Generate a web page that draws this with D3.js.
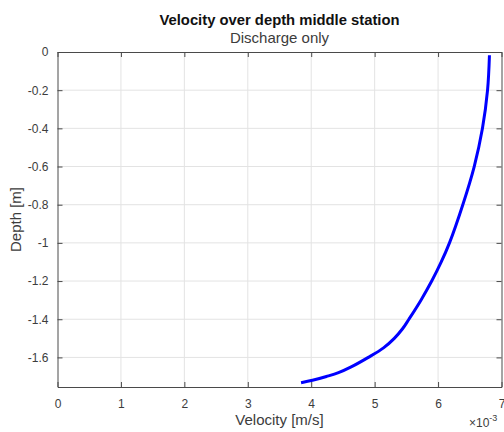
<!DOCTYPE html>
<html>
<head>
<meta charset="utf-8">
<script src="https://cdn.jsdelivr.net/npm/d3@7"></script>
<style>
  html, body { margin: 0; padding: 0; background: #fff; }
  svg { display: block; font-family: "Liberation Sans", Arial, Helvetica, sans-serif; }
</style>
</head>
<body>
<svg id="chart" width="504" height="432"></svg>
<script>
// Velocity profile (x10^-3 m/s) against depth (m)
const depth    = [-0.017, -0.2, -0.4, -0.6, -0.8, -1.0, -1.1, -1.2, -1.3, -1.4, -1.45, -1.5, -1.55, -1.6, -1.65, -1.68, -1.7, -1.72, -1.733];
const velocity = [6.81, 6.78, 6.70, 6.57, 6.39, 6.18, 6.05, 5.90, 5.73, 5.54, 5.44, 5.31, 5.14, 4.90, 4.63, 4.43, 4.24, 4.02, 3.84];

const xTicks = [0, 1, 2, 3, 4, 5, 6, 7];
const yTicks = [0, -0.2, -0.4, -0.6, -0.8, -1, -1.2, -1.4, -1.6];

const title = "Velocity over depth middle station";
const subtitle = "Discharge only";
const xLabel = "Velocity [m/s]";
const yLabel = "Depth [m]";

const margin = { left: 57.5, right: 2.5, top: 52, bottom: 45 };
const W = 504, H = 432;
const pw = W - margin.left - margin.right;
const ph = H - margin.top - margin.bottom;

const svg = d3.select("#chart");
const g = svg.append("g").attr("transform", `translate(${margin.left},${margin.top})`);

const x = d3.scaleLinear().domain([0, 7]).range([0, pw]);
const y = d3.scaleLinear().domain([-1.755, 0]).range([ph, 0]);

const axisColor = "#4a4a4a";
const textColor = "#3c3c3c";

// grid
g.append("g").selectAll("line").data(xTicks.slice(1, -1)).join("line")
  .attr("x1", d => x(d)).attr("x2", d => x(d)).attr("y1", 0).attr("y2", ph)
  .attr("stroke", "#e3e3e3").attr("stroke-width", 1);
g.append("g").selectAll("line").data(yTicks.slice(1)).join("line")
  .attr("y1", d => y(d)).attr("y2", d => y(d)).attr("x1", 0).attr("x2", pw)
  .attr("stroke", "#e3e3e3").attr("stroke-width", 1);

// axes with inward ticks on all four sides
const fmt = d => (d === 0 ? "0" : String(+d.toFixed(1)));
const axBottom = g.append("g").attr("transform", `translate(0,${ph})`)
  .call(d3.axisBottom(x).tickValues(xTicks).tickSize(-5).tickSizeOuter(0).tickPadding(12).tickFormat(fmt));
const axTop = g.append("g")
  .call(d3.axisTop(x).tickValues(xTicks).tickSize(-5).tickSizeOuter(0).tickFormat(""));
const axLeft = g.append("g")
  .call(d3.axisLeft(y).tickValues(yTicks).tickSize(-5).tickSizeOuter(0).tickPadding(9).tickFormat(fmt));
const axRight = g.append("g").attr("transform", `translate(${pw},0)`)
  .call(d3.axisRight(y).tickValues(yTicks).tickSize(-5).tickSizeOuter(0).tickFormat(""));

[axBottom, axTop, axLeft, axRight].forEach(a => {
  a.select(".domain").attr("stroke", axisColor);
  a.selectAll(".tick line").attr("stroke", axisColor);
  a.selectAll(".tick text").attr("fill", textColor).style("font-size", "12px")
    .style("font-family", "'Liberation Sans', Arial, sans-serif");
});

// curve
g.append("path")
  .datum(d3.zip(velocity, depth))
  .attr("fill", "none")
  .attr("stroke", "#0000ff")
  .attr("stroke-width", 3)
  .attr("stroke-linejoin", "round")
  .attr("d", d3.line().curve(d3.curveCatmullRom).x(d => x(d[0])).y(d => y(d[1])));

// titles and labels
const cx = margin.left + pw / 2;
svg.append("text").attr("x", cx).attr("y", 25).attr("text-anchor", "middle")
  .attr("font-weight", "bold").attr("font-size", 14.8).attr("fill", "#111").text(title);
svg.append("text").attr("x", cx).attr("y", 43).attr("text-anchor", "middle")
  .attr("font-size", 15).attr("fill", textColor).text(subtitle);
svg.append("text").attr("x", cx).attr("y", 425).attr("text-anchor", "middle")
  .attr("font-size", 15).attr("fill", textColor).text(xLabel);
svg.append("text").attr("transform", `translate(21,${margin.top + ph / 2}) rotate(-90)`)
  .attr("text-anchor", "middle").attr("font-size", 15).attr("fill", textColor).text(yLabel);

// exponent marker
const ex = svg.append("text").attr("x", 469).attr("y", 427).attr("font-size", 12).attr("fill", textColor);
ex.append("tspan").text("×10");
ex.append("tspan").attr("dy", -6).attr("font-size", 9).text("-3");
</script>
</body>
</html>
